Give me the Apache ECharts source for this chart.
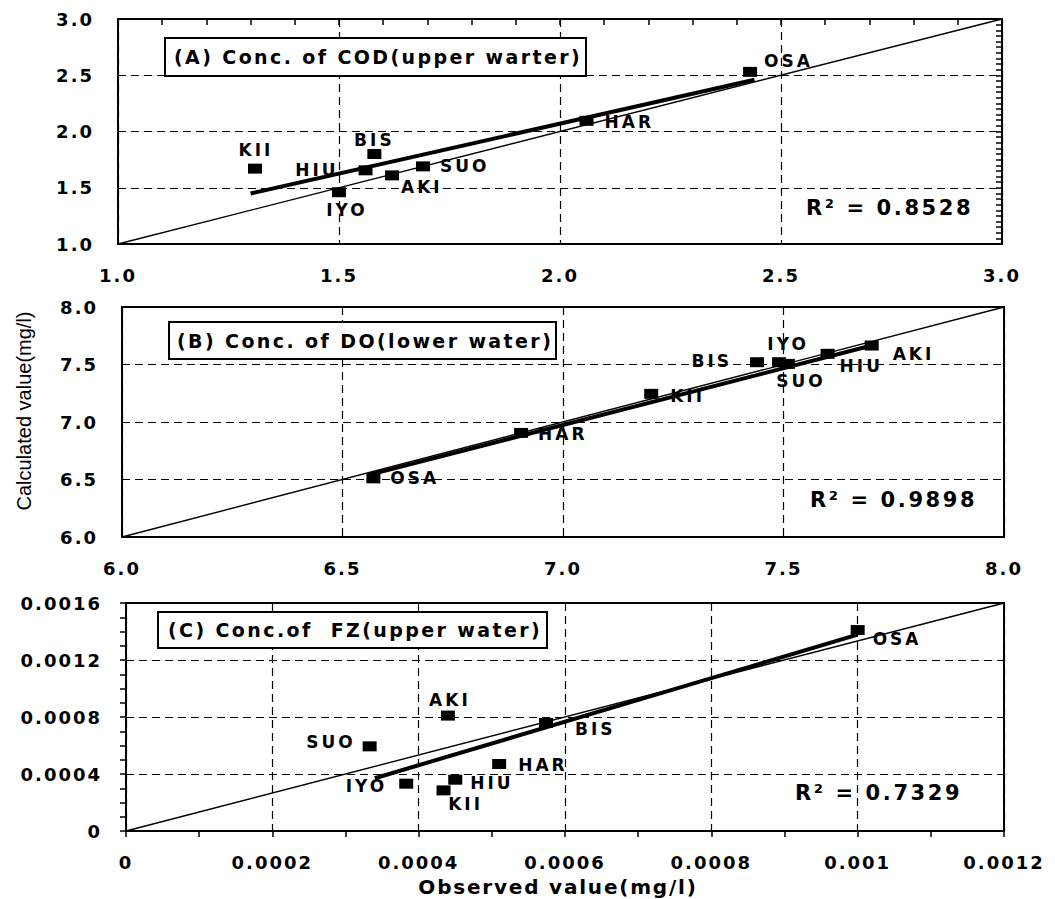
<!DOCTYPE html>
<html>
<head>
<meta charset="utf-8">
<title>Observed vs calculated concentrations</title>
<script src="https://cdn.jsdelivr.net/npm/echarts@6/dist/echarts.min.js"></script>
<style>
  html, body { margin: 0; padding: 0; background: #fff; }
  #chart { width: 1055px; height: 899px; }
</style>
</head>
<body>
<div id="chart"></div>
<script>
// ---- (A) COD, upper water ----
const sitesA = ['KII', 'BIS', 'HIU', 'AKI', 'SUO', 'IYO', 'HAR', 'OSA'];
const observedA = [1.31, 1.58, 1.56, 1.62, 1.69, 1.50, 2.06, 2.43];
const calculatedA = [1.67, 1.80, 1.655, 1.61, 1.69, 1.46, 2.095, 2.53];
const fitObservedA = [1.30, 2.44];
const fitCalculatedA = [1.449, 2.46];
const r2A = '0.8528';
const xTicksA = ['1.0', '1.5', '2.0', '2.5', '3.0'];
const yTicksA = ['1.0', '1.5', '2.0', '2.5', '3.0'];
const titleA = '(A) Conc. of COD(upper warter)';

// ---- (B) DO, lower water ----
const sitesB = ['OSA', 'HAR', 'KII', 'BIS', 'IYO', 'SUO', 'HIU', 'AKI'];
const observedB = [6.57, 6.905, 7.20, 7.44, 7.49, 7.51, 7.60, 7.70];
const calculatedB = [6.51, 6.905, 7.245, 7.52, 7.52, 7.505, 7.593, 7.665];
const fitObservedB = [6.56, 7.70];
const fitCalculatedB = [6.54, 7.665];
const r2B = '0.9898';
const xTicksB = ['6.0', '6.5', '7.0', '7.5', '8.0'];
const yTicksB = ['6.0', '6.5', '7.0', '7.5', '8.0'];
const titleB = '(B) Conc. of DO(lower water)';

// ---- (C) FZ, upper water ----
const sitesC = ['AKI', 'SUO', 'IYO', 'HIU', 'KII', 'HAR', 'BIS', 'OSA'];
const observedC = [0.00044, 0.000333, 0.000383, 0.00045, 0.000434, 0.00051, 0.000574, 0.001];
const calculatedC = [0.00081, 0.000594, 0.000332, 0.00036, 0.000285, 0.00047, 0.000758, 0.00141];
const fitObservedC = [0.00034, 0.001];
const fitCalculatedC = [0.00037, 0.001378];
const r2C = '0.7329';
const xTicksC = ['0', '0.0002', '0.0004', '0.0006', '0.0008', '0.001', '0.0012'];
const yTicksC = ['0', '0.0004', '0.0008', '0.0012', '0.0016'];
const titleC = '(C) Conc.of  FZ(upper water)';

const xAxisTitle = 'Observed value(mg/l)';
const yAxisTitle = 'Calculated value(mg/l)';

// Site label placement: [text align, dx, dy] from the marker centre
const placeA = {
  KII: ['center', 1, -19], BIS: ['center', 0, -14], HIU: ['right', -27, 0],
  AKI: ['left', 9, 12], SUO: ['left', 17, 0], IYO: ['center', 8, 18],
  HAR: ['left', 18, 1], OSA: ['left', 14, -11]
};
const placeB = {
  OSA: ['left', 17, 0], HAR: ['left', 17, 1], KII: ['left', 19, 2],
  BIS: ['right', -25, -1], IYO: ['center', 9, -18], SUO: ['center', 13, 17],
  HIU: ['left', 12, 12], AKI: ['left', 21, 8]
};
const placeC = {
  AKI: ['center', 2, -16], SUO: ['right', -14, -4], IYO: ['right', -19, 2],
  HIU: ['left', 15, 3], KII: ['center', 22, 14], HAR: ['left', 19, 1],
  BIS: ['left', 29, 6], OSA: ['left', 15, 9]
};

const FONT = 'DejaVu Sans';

const panels = [
  { sites: sitesA, obs: observedA, calc: calculatedA, fitObs: fitObservedA, fitCalc: fitCalculatedA,
    xTicks: xTicksA, yTicks: yTicksA, place: placeA, title: titleA, r2: r2A,
    grid: { left: 118, top: 19, width: 884, height: 225 }, xMinor: 5, yMinor: 10,
    box: [165, 38, 421, 38], titleAt: [174, 57], r2At: [806, 208] },
  { sites: sitesB, obs: observedB, calc: calculatedB, fitObs: fitObservedB, fitCalc: fitCalculatedB,
    xTicks: xTicksB, yTicks: yTicksB, place: placeB, title: titleB, r2: r2B,
    grid: { left: 122, top: 307, width: 882, height: 230 }, xMinor: 0, yMinor: 0,
    box: [169, 322, 387, 37], titleAt: [177, 341], r2At: [810, 500] },
  { sites: sitesC, obs: observedC, calc: calculatedC, fitObs: fitObservedC, fitCalc: fitCalculatedC,
    xTicks: xTicksC, yTicks: yTicksC, place: placeC, title: titleC, r2: r2C,
    grid: { left: 126, top: 603, width: 878, height: 228 }, xMinor: 2, yMinor: 4,
    box: [158, 612, 389, 36], titleAt: [168, 630], r2At: [795, 793] }
];

function tickValues(ticks) {
  const vals = ticks.map(Number);
  return { min: vals[0], max: vals[vals.length - 1], step: +(vals[1] - vals[0]).toPrecision(6) };
}

// main axis: labels, dashed grid lines
function valueAxis(i, ticks, isX) {
  const t = tickValues(ticks);
  return {
    type: 'value', gridIndex: i,
    min: t.min, max: t.max, interval: t.step,
    axisLine: { show: true, lineStyle: { color: '#000', width: 2 } },
    axisTick: { show: false },
    splitLine: { show: true, lineStyle: { color: '#000', width: 1.2, type: [8, 5] } },
    axisLabel: {
      margin: isX ? 22 : 24, color: '#000', fontFamily: FONT, fontWeight: 'bold', fontSize: 18,
      formatter: function (v) {
        const k = Math.round((v - t.min) / t.step);
        return ticks[k] !== undefined ? ticks[k] : '';
      }
    }
  };
}

// companion axis carrying only the short inward tick marks
function tickAxis(i, ticks, split) {
  const t = tickValues(ticks);
  return {
    type: 'value', gridIndex: i,
    min: t.min, max: t.max, interval: +(t.step / split).toPrecision(6),
    axisLine: { show: false },
    axisTick: { show: true, inside: true, length: 6, lineStyle: { color: '#000', width: 1.5 } },
    splitLine: { show: false },
    axisLabel: { show: false }
  };
}

const grids = [], xAxes = [], yAxes = [], series = [], graphics = [];
const mainY = [], mainX = [];

panels.forEach(function (p, i) {
  grids.push(Object.assign({ show: true, borderColor: '#000', borderWidth: 2, backgroundColor: '#fff' }, p.grid));
  xAxes.push(valueAxis(i, p.xTicks, true));
  yAxes.push(valueAxis(i, p.yTicks, false));

  const xi = xAxes.length - 1, yi = yAxes.length - 1;
  mainX.push(xi); mainY.push(yi);
  const x0 = Number(p.xTicks[0]), x1 = Number(p.xTicks[p.xTicks.length - 1]);
  const y0 = Number(p.yTicks[0]), y1 = Number(p.yTicks[p.yTicks.length - 1]);

  // corner-to-corner reference line
  series.push({
    type: 'line', xAxisIndex: xi, yAxisIndex: yi, silent: true, symbol: 'none', z: 3,
    data: [[x0, y0], [x1, y1]],
    lineStyle: { color: '#000', width: 1.4 }
  });
  // regression line
  series.push({
    type: 'line', xAxisIndex: xi, yAxisIndex: yi, silent: true, symbol: 'none', z: 4,
    data: p.fitObs.map(function (x, k) { return [x, p.fitCalc[k]]; }),
    lineStyle: { color: '#000', width: 4 }
  });
  // sites
  series.push({
    type: 'scatter', xAxisIndex: xi, yAxisIndex: yi, z: 5,
    symbol: 'rect', symbolSize: [14, 10],
    itemStyle: { color: '#000', opacity: 1 },
    emphasis: { disabled: true },
    label: {
      show: true, position: 'inside', formatter: '{b}', color: '#000',
      fontFamily: FONT, fontWeight: 'bold', fontSize: 17, verticalAlign: 'middle'
    },
    data: p.sites.map(function (s, k) {
      const pl = p.place[s];
      return { name: s, value: [p.obs[k], p.calc[k]], label: { align: pl[0], offset: [pl[1], pl[2]] } };
    })
  });

  if (p.xMinor) xAxes.push(tickAxis(i, p.xTicks, p.xMinor));
  if (p.yMinor) yAxes.push(tickAxis(i, p.yTicks, p.yMinor));

  // framed panel title
  graphics.push({
    type: 'rect', z: 50,
    shape: { x: p.box[0], y: p.box[1], width: p.box[2], height: p.box[3] },
    style: { fill: '#fff', stroke: '#000', lineWidth: 2 }
  });
  graphics.push({
    type: 'text', z: 51, x: p.titleAt[0], y: p.titleAt[1],
    style: {
      text: p.title, fill: '#000', font: 'bold 19px "DejaVu Sans"',
      align: 'left', textAlign: 'left', verticalAlign: 'middle', textVerticalAlign: 'middle'
    }
  });
  // coefficient of determination
  graphics.push({
    type: 'text', z: 51, x: p.r2At[0], y: p.r2At[1],
    style: {
      text: 'R\u00B2 = ' + p.r2, fill: '#000', font: 'bold 21px "DejaVu Sans"',
      align: 'left', textAlign: 'left', verticalAlign: 'middle', textVerticalAlign: 'middle'
    }
  });
});

// shared axis titles on the middle (y) and bottom (x) panels
const yTitleAxis = yAxes[mainY[1]];
yTitleAxis.name = yAxisTitle;
yTitleAxis.nameLocation = 'middle';
yTitleAxis.nameGap = 88;
yTitleAxis.nameRotate = 90;
yTitleAxis.nameTextStyle = { fontFamily: 'Liberation Sans', fontSize: 20, color: '#000', padding: [0, 0, 0, 22] };

const xTitleAxis = xAxes[mainX[2]];
xTitleAxis.name = xAxisTitle;
xTitleAxis.nameLocation = 'middle';
xTitleAxis.nameGap = 46;
xTitleAxis.nameTextStyle = { fontFamily: FONT, fontWeight: 'bold', fontSize: 20, color: '#000', padding: [0, 14, 0, 0] };

const chart = echarts.init(document.getElementById('chart'), null, { renderer: 'svg', width: 1055, height: 899 });
chart.setOption({
  animation: false,
  backgroundColor: '#fff',
  grid: grids,
  xAxis: xAxes,
  yAxis: yAxes,
  series: series,
  graphic: graphics
});

// the lettering of this figure is set wide; widen DejaVu text by size
const letterSpacingBySize = { 17: 3, 18: 2, 19: 2.4, 20: 1.8, 21: 2.6 };
function widenLettering() {
  document.querySelectorAll('#chart svg text').forEach(function (t) {
    const cs = getComputedStyle(t);
    if (!/DejaVu/.test(cs.fontFamily)) return;
    const s = Math.round(parseFloat(cs.fontSize));
    if (letterSpacingBySize[s] !== undefined) t.style.letterSpacing = letterSpacingBySize[s] + 'px';
  });
}
chart.on('finished', widenLettering);
widenLettering();
</script>
</body>
</html>
